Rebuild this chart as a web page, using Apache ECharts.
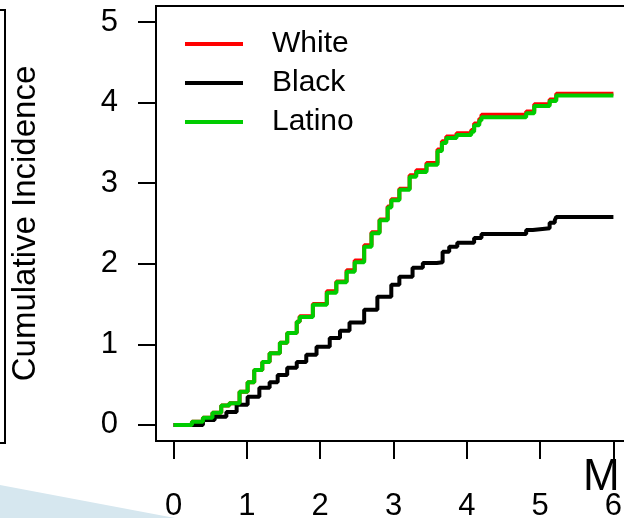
<!DOCTYPE html>
<html>
<head>
<meta charset="utf-8">
<script src="https://cdn.jsdelivr.net/npm/echarts@6/dist/echarts.min.js"></script>
<style>html,body{margin:0;padding:0;background:#fff}#c{width:624px;height:518px}</style>
</head>
<body>
<div id="c"></div>
<script>
// ---- data ----
const seriesNames = ['White', 'Black', 'Latino'];
const xTicks = [0, 1, 2, 3, 4, 5, 6];
const yTicks = [0, 1, 2, 3, 4, 5];
const yAxisTitle = 'Cumulative Incidence';
const cornerText = 'M';

const whiteT = [0, 0.15, 0.25, 0.40, 0.53, 0.65, 0.76, 0.90, 1.01, 1.10, 1.21, 1.31, 1.45, 1.55, 1.68, 1.72, 1.90, 2.09, 2.22, 2.36, 2.47, 2.60, 2.70, 2.81, 2.92, 2.97, 3.08, 3.22, 3.31, 3.45, 3.60, 3.66, 3.72, 3.86, 4.06, 4.10, 4.17, 4.20, 4.81, 4.92, 5.13, 5.22, 6.00];
const whiteV = [0, 0, 0.04, 0.09, 0.15, 0.24, 0.27, 0.41, 0.53, 0.68, 0.78, 0.89, 1.02, 1.14, 1.28, 1.35, 1.50, 1.66, 1.78, 1.92, 2.04, 2.23, 2.39, 2.55, 2.71, 2.80, 2.93, 3.10, 3.16, 3.25, 3.42, 3.52, 3.58, 3.62, 3.66, 3.74, 3.80, 3.85, 3.89, 3.98, 4.04, 4.11, 4.11];

const blackT = [0, 0.25, 0.40, 0.56, 0.72, 0.86, 1.01, 1.17, 1.31, 1.42, 1.55, 1.68, 1.81, 1.95, 2.13, 2.27, 2.40, 2.60, 2.78, 2.97, 3.08, 3.26, 3.40, 3.59, 3.67, 3.76, 3.87, 4.10, 4.20, 4.81, 4.90, 5.13, 5.20, 5.22, 6.00];
const blackV = [0, 0, 0.06, 0.10, 0.16, 0.25, 0.35, 0.46, 0.53, 0.62, 0.71, 0.78, 0.87, 0.97, 1.08, 1.17, 1.27, 1.43, 1.59, 1.74, 1.84, 1.95, 2.01, 2.02, 2.15, 2.21, 2.26, 2.32, 2.37, 2.42, 2.44, 2.51, 2.54, 2.58, 2.58];

const latinoT = [0, 0.15, 0.25, 0.40, 0.53, 0.65, 0.76, 0.90, 1.01, 1.10, 1.21, 1.31, 1.45, 1.55, 1.68, 1.72, 1.90, 2.09, 2.22, 2.36, 2.47, 2.60, 2.70, 2.81, 2.92, 2.97, 3.08, 3.22, 3.31, 3.45, 3.60, 3.66, 3.72, 3.86, 4.06, 4.10, 4.17, 4.20, 4.81, 4.92, 5.13, 5.22, 6.00];
const latinoV = [0, 0, 0.04, 0.09, 0.15, 0.24, 0.27, 0.41, 0.53, 0.68, 0.78, 0.89, 1.02, 1.14, 1.28, 1.34, 1.49, 1.64, 1.77, 1.90, 2.02, 2.21, 2.38, 2.54, 2.70, 2.79, 2.92, 3.08, 3.14, 3.23, 3.40, 3.50, 3.56, 3.60, 3.64, 3.72, 3.78, 3.82, 3.87, 3.96, 4.02, 4.09, 4.09];

const seriesColors = ['#ff0000', '#000000', '#00cc00'];

function pairs(t, v) { return t.map((x, i) => [x, v[i]]); }

const FONT = '"Liberation Sans", Arial, sans-serif';
const chart = echarts.init(document.getElementById('c'), null, { renderer: 'canvas' });

const dataSets = [pairs(whiteT, whiteV), pairs(blackT, blackV), pairs(latinoT, latinoV)];

chart.setOption({
  animation: false,
  backgroundColor: '#fff',
  textStyle: { fontFamily: FONT },
  grid: {
    left: 156, top: 6, width: 475, height: 435,
    show: true, borderColor: '#000', borderWidth: 2, backgroundColor: 'transparent',
    containLabel: false, outerBoundsMode: 'none'
  },
  legend: {
    orient: 'vertical', left: 185, top: 29, padding: 0,
    itemWidth: 58, itemHeight: 4, itemGap: 9,
    icon: 'rect',
    data: seriesNames,
    textStyle: { fontSize: 30, lineHeight: 30, color: '#000', fontFamily: FONT, padding: [0, 0, 0, 24] }
  },
  xAxis: {
    type: 'value', min: -0.24, max: 6.24,
    splitLine: { show: false },
    axisLine: { show: true, onZero: false, lineStyle: { color: '#000', width: 2 } },
    axisTick: { show: true, inside: false, length: 18, customValues: xTicks, lineStyle: { color: '#000', width: 2 } },
    axisLabel: { customValues: xTicks, margin: 50, fontSize: 31, color: '#000', fontFamily: FONT }
  },
  yAxis: {
    type: 'value', min: -0.2, max: 5.2,
    name: yAxisTitle, nameLocation: 'middle', nameGap: 114, nameRotate: 90,
    nameTextStyle: { fontSize: 33, color: '#000', fontFamily: FONT },
    splitLine: { show: false },
    axisLine: { show: true, onZero: false, lineStyle: { color: '#000', width: 2 } },
    axisTick: { show: true, inside: false, length: 18, customValues: yTicks, lineStyle: { color: '#000', width: 2 } },
    axisLabel: { customValues: yTicks, margin: 38, fontSize: 31, color: '#000', fontFamily: FONT }
  },
  series: seriesNames.map((n, i) => ({
    name: n, type: 'line', step: 'end', data: dataSets[i],
    symbol: 'none', color: seriesColors[i],
    lineStyle: { color: seriesColors[i], width: 4 },
    z: 2 + i
  })),
  graphic: [
    { type: 'polyline', shape: { points: [[0, 10], [5, 10], [5, 443], [0, 443]] }, style: { stroke: '#000', lineWidth: 2, fill: null }, silent: true },
    { type: 'polygon', shape: { points: [[0, 485], [175, 518], [0, 518]] }, style: { fill: '#d6e7ef' }, silent: true, z: -1 },
    { type: 'text', left: 583, top: 456, style: { text: cornerText, font: '44px ' + FONT, fill: '#000' }, z: 10 }
  ]
});
</script>
</body>
</html>
